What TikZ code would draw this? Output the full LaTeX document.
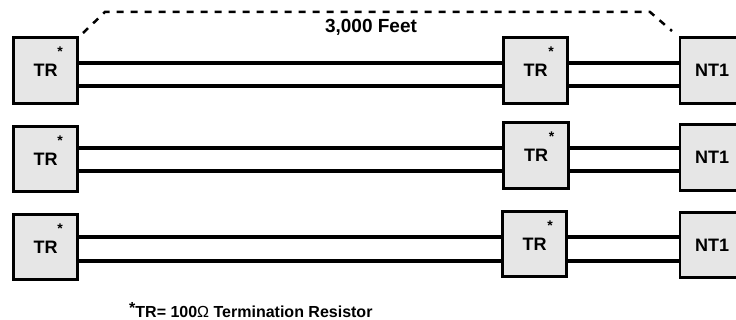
\documentclass[tikz,border=0pt]{standalone}
\usepackage{fontspec}
\setmainfont{Liberation Sans}
\usetikzlibrary{calc}
\definecolor{boxgray}{HTML}{E6E6E6}
\tikzset{
  termbox/.style={draw=black, line width=2.6pt, fill=boxgray, minimum width=64.5pt, minimum height=65.5pt, inner sep=0pt, font=\fontsize{18}{20}\selectfont\bfseries},
  ntbox/.style={termbox, minimum width=64pt},
  star/.style={inner sep=0pt, font=\fontsize{14}{15}\selectfont\bfseries},
  wire/.style={line width=3.3pt},
  dim/.style={line width=2.5pt, dash pattern=on 7pt off 7pt},
  lbl/.style={inner sep=0pt, font=\fontsize{19}{21}\selectfont\bfseries},
  note/.style={inner sep=0pt, font=\fontsize{16}{18}\selectfont\bfseries}
}
\begin{document}
\begin{tikzpicture}[x=1pt,y=-1pt]
\useasboundingbox (0,0) rectangle (736,320);
\clip (0,0) rectangle (736,320);
% row 1
\node[termbox] (tr1a) at (45.5,70.5) {TR};
\node[termbox] (tr1b) at (535.5,70.5) {TR};
\node[ntbox] (nt1) at (712,70.5) {NT1};
% row 2
\node[termbox] (tr2a) at (45.5,159) {TR};
\node[termbox] (tr2b) at (536,155.5) {TR};
\node[ntbox] (nt2) at (712,157.5) {NT1};
% row 3
\node[termbox] (tr3a) at (45.5,247) {TR};
\node[termbox] (tr3b) at (534.5,244) {TR};
\node[ntbox] (nt3) at (712,245) {NT1};
% asterisks
\foreach \b in {tr1a,tr2a,tr3a}{
  \node[star] (s-\b) at ($(\b.center)+(14.5,-18.5)$) {*};
}
\foreach \b in {tr1b,tr2b,tr3b}{
  \node[star] (s-\b) at ($(\b.center)+(15.5,-18.5)$) {*};
}
% wires row 1
\draw[wire] (tr1a.east |- 0,63) -- (tr1b.west |- 0,63);
\draw[wire] (tr1a.east |- 0,86) -- (tr1b.west |- 0,86);
\draw[wire] (tr1b.east |- 0,63) -- (nt1.west |- 0,63);
\draw[wire] (tr1b.east |- 0,86) -- (nt1.west |- 0,86);
% wires row 2
\draw[wire] (tr2a.east |- 0,148) -- (tr2b.west |- 0,148);
\draw[wire] (tr2a.east |- 0,171) -- (tr2b.west |- 0,171);
\draw[wire] (tr2b.east |- 0,148) -- (nt2.west |- 0,148);
\draw[wire] (tr2b.east |- 0,171) -- (nt2.west |- 0,171);
% wires row 3
\draw[wire] (tr3a.east |- 0,237) -- (tr3b.west |- 0,237);
\draw[wire] (tr3a.east |- 0,261) -- (tr3b.west |- 0,261);
\draw[wire] (tr3b.east |- 0,237) -- (nt3.west |- 0,237);
\draw[wire] (tr3b.east |- 0,261) -- (nt3.west |- 0,261);
% dimension
\coordinate (d1) at (83,33);
\coordinate (d2) at (105,12);
\coordinate (d3) at (650,12);
\coordinate (d4) at (672,31);
\draw[dim] (d1) -- (d2) -- (d3) -- (d4);
\node[lbl] (len) at (371,27) {3,000 Feet};
% footnote
\node[note, anchor=west] (fn) at (129,310) {\raisebox{0.3em}{*}TR= 100{\mdseries Ω} Termination Resistor};
\end{tikzpicture}
\end{document}
